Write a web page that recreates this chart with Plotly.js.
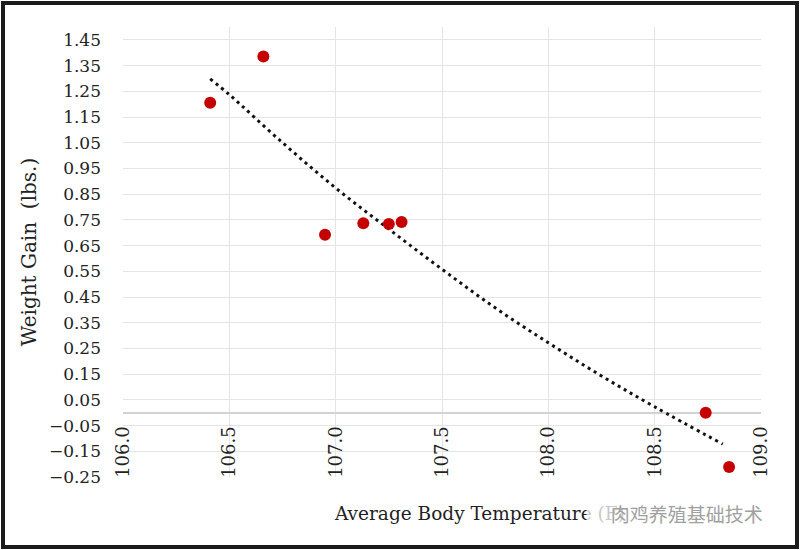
<!DOCTYPE html>
<html>
<head>
<meta charset="utf-8">
<script src="https://cdn.plot.ly/plotly-3.0.1.min.js"></script>
<style>
  html, body { margin: 0; padding: 0; background: #fff; }
  #frame { margin: 1px; width: 790px; height: 540px; border: 4px solid #1a1a1a; }
</style>
</head>
<body>
<div id="frame"><div id="plot" style="width:790px;height:540px;"></div></div>
<script>
// readings from the scatter
var tempX = [106.41, 106.66, 106.95, 107.13, 107.25, 107.31, 108.74, 108.85];
var gainY = [1.205, 1.385, 0.692, 0.737, 0.734, 0.742, 0.0, -0.211];

// dotted trendline
var trendX = [106.41, 106.5, 106.75, 107.0, 107.25, 107.5, 107.75, 108.0, 108.25, 108.5, 108.82];
var trendY = [1.298, 1.237, 1.05, 0.874, 0.714, 0.558, 0.408, 0.272, 0.143, 0.023, -0.122];

var xTitle = 'Average Body Temperature (F)';
var yTitle = 'Weight Gain\u00a0 (lbs.)';
var watermark = '肉鸡养殖基础技术';

var serif = 'DejaVu Serif, Liberation Serif, serif';

var data = [
  {
    x: trendX,
    y: trendY,
    mode: 'lines',
    type: 'scatter',
    line: {color: '#111', width: 3, dash: '3px,4px', shape: 'spline'},
    hoverinfo: 'skip'
  },
  {
    x: tempX,
    y: gainY,
    mode: 'markers',
    type: 'scatter',
    marker: {color: '#c40000', size: 12}
  }
];

var yMin = -0.25, yMax = 1.5;

var layout = {
  width: 790,
  height: 540,
  margin: {l: 118, r: 34, t: 22, b: 68},
  paper_bgcolor: '#fff',
  plot_bgcolor: '#fff',
  showlegend: false,
  font: {family: serif, color: '#222'},
  xaxis: {
    range: [106, 109],
    dtick: 0.5,
    tick0: 106,
    tickformat: '.1f',
    tickangle: -90,
    anchor: 'free',
    position: (0 - yMin) / (yMax - yMin),
    showgrid: true,
    gridcolor: '#e4e4e4',
    gridwidth: 1,
    zeroline: false,
    showline: false,
    ticks: '',
    ticklabelstandoff: 9,
    tickfont: {family: serif, size: 18, color: '#222'}
  },
  yaxis: {
    range: [yMin, yMax],
    tick0: 0.05,
    dtick: 0.1,
    tickformat: '.2f',
    showgrid: true,
    gridcolor: '#e4e4e4',
    gridwidth: 1,
    zeroline: true,
    zerolinecolor: '#d2d2d2',
    zerolinewidth: 2,
    showline: false,
    ticks: '',
    ticklabelstandoff: 21,
    tickfont: {family: serif, size: 17, color: '#222'},
    title: {text: yTitle, font: {family: serif, size: 20, color: '#222'}, standoff: 6}
  },
  annotations: [
    {
      xref: 'paper', yref: 'paper',
      x: 0.3276, y: -0.08,
      xanchor: 'left', yanchor: 'middle',
      text: xTitle,
      showarrow: false,
      font: {family: serif, size: 18.5, color: '#222'}
    },
    {
      xref: 'paper', yref: 'paper',
      x: 0.725, y: -0.08,
      xanchor: 'left', yanchor: 'middle',
      text: '\u3000\u2009' + watermark,
      showarrow: false,
      bgcolor: 'rgba(255,255,255,0.75)',
      font: {family: 'Noto Sans CJK SC, sans-serif', size: 19, color: '#a0a0a0'}
    }
  ]
};

Plotly.newPlot('plot', data, layout, {displayModeBar: false, staticPlot: true});
</script>
</body>
</html>
